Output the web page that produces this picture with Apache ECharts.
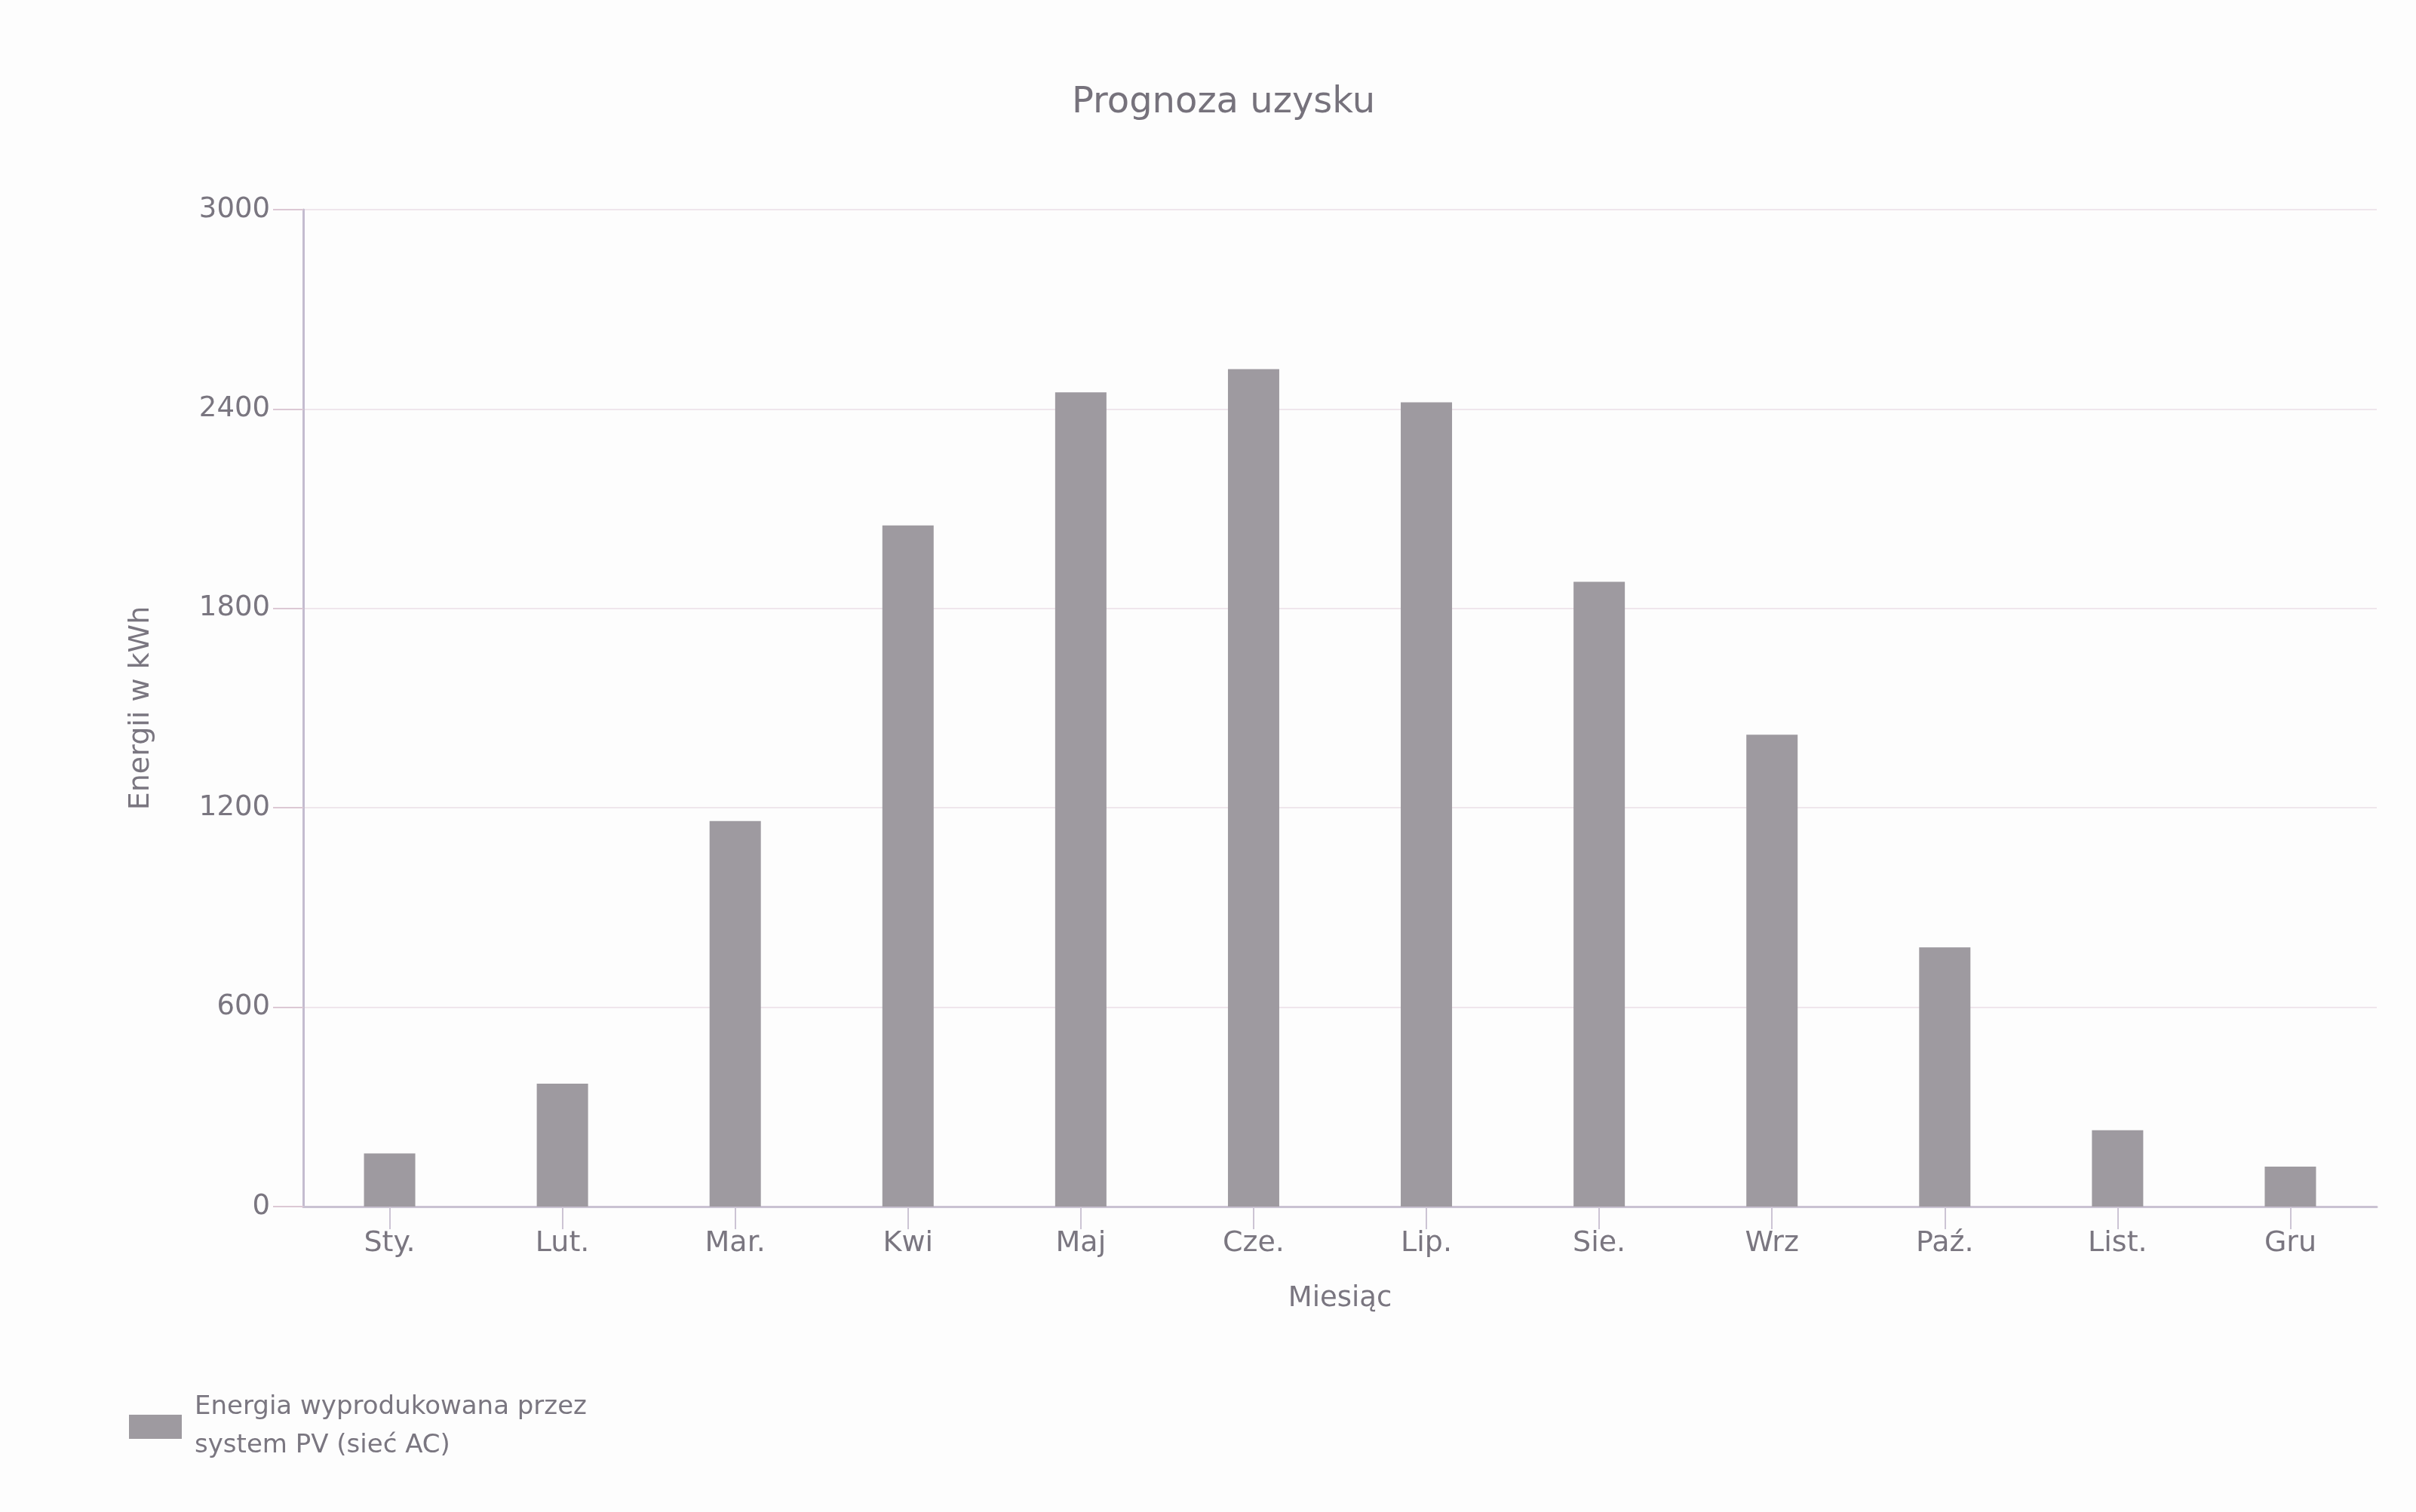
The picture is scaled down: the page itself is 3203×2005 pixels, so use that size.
<!DOCTYPE html>
<html>
<head>
    <meta charset="UTF-8"/>
    <script type="text/javascript" src="https://cdn.jsdelivr.net/npm/echarts@6/dist/echarts.min.js"></script>
    <title>Prognoza uzysku</title>
    <style>
        html, body { margin: 0; padding: 0; background: #fdfdfd; }
        #main { width: 3203px; height: 2005px; }
    </style>
</head>
<body>
<div id="main"></div>
<script type="text/javascript">
    // dane
    var months = ['Sty.', 'Lut.', 'Mar.', 'Kwi', 'Maj', 'Cze.', 'Lip.', 'Sie.', 'Wrz', 'Paź.', 'List.', 'Gru']
    var energy = [160, 370, 1160, 2050, 2450, 2520, 2420, 1880, 1420, 780, 230, 120]
    var yTicks = [0, 600, 1200, 1800, 2400, 3000]

    var seriesName = 'Energia wyprodukowana przez\nsystem PV (sieć AC)'
    var textColor = '#7a7680'
    var font = 'DejaVu Sans'

    var myChart = echarts.init(document.getElementById('main'))

    var option = {
        backgroundColor: '#fdfdfd',
        animation: false,
        title: {
            text: 'Prognoza uzysku',
            left: 1416,
            top: 108,
            textStyle: {color: '#76727c', fontSize: 48, fontWeight: 'normal', fontFamily: font}
        },
        legend: {
            left: 166,
            top: 1836,
            orient: 'vertical',
            icon: 'rect',
            itemWidth: 70,
            itemHeight: 32,
            data: [seriesName],
            textStyle: {color: textColor, fontSize: 34, fontFamily: font, lineHeight: 51, padding: [0, 0, 0, 12]}
        },
        grid: {left: 402, right: 52, top: 278, bottom: 405},
        xAxis: {
            type: 'category',
            data: months,
            name: 'Miesiąc',
            nameLocation: 'middle',
            nameGap: 104,
            nameTextStyle: {color: textColor, fontSize: 37, fontFamily: font},
            axisLine: {lineStyle: {color: '#c9c2d2', width: 3}},
            axisTick: {show: true, alignWithLabel: true, length: 30, lineStyle: {color: '#ccc4d4', width: 2}},
            axisLabel: {color: textColor, fontSize: 38, fontFamily: font, margin: 30}
        },
        yAxis: {
            type: 'value',
            min: yTicks[0],
            max: yTicks[yTicks.length - 1],
            interval: yTicks[1] - yTicks[0],
            name: 'Energii w kWh',
            nameLocation: 'middle',
            nameRotate: 90,
            nameGap: 196,
            nameTextStyle: {color: textColor, fontSize: 38, fontFamily: font},
            axisLine: {show: true, lineStyle: {color: '#c4bccf', width: 3}},
            axisTick: {show: true, length: 40, lineStyle: {color: '#dcc8d4', width: 2}},
            axisLabel: {
                color: textColor, fontSize: 37, fontFamily: font, margin: 44,
                formatter: function (v) { return String(v) }
            },
            splitLine: {lineStyle: {color: '#efe6ec', width: 2}}
        },
        series: [{
            name: seriesName,
            type: 'bar',
            data: energy,
            barWidth: 68,
            itemStyle: {color: '#9e9aa0'}
        }]
    }

    myChart.setOption(option)
</script>
</body>
</html>
